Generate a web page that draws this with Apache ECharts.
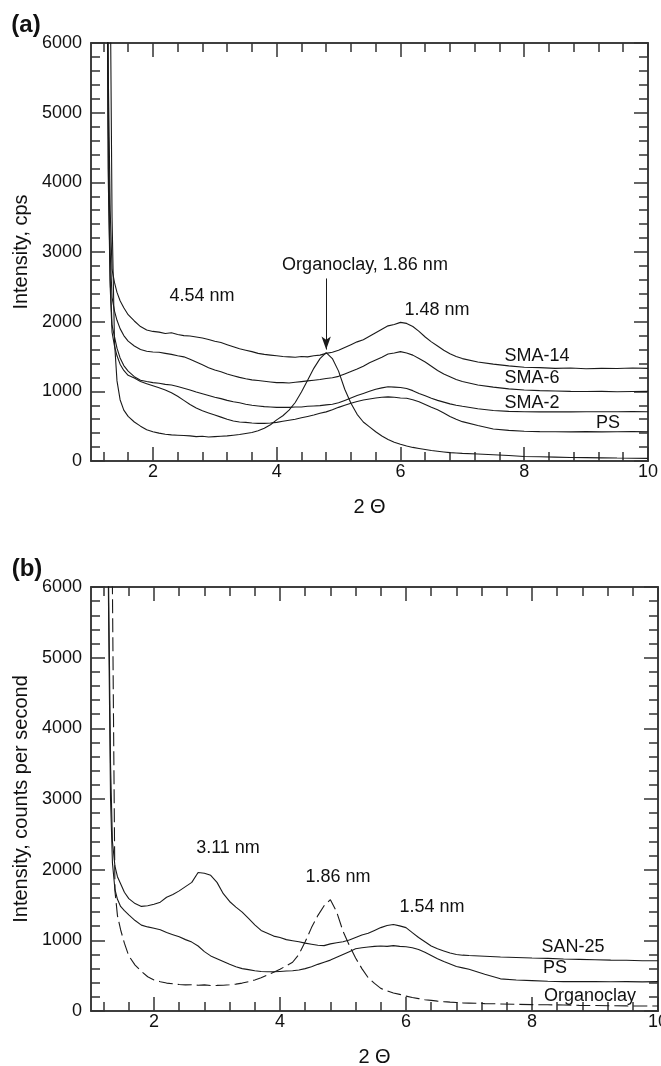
<!DOCTYPE html>
<html><head><meta charset="utf-8">
<script src="https://cdn.jsdelivr.net/npm/echarts@6/dist/echarts.min.js"></script>
<style>html,body{margin:0;padding:0;background:#fff}#c{width:661px;height:1066px}</style>
</head><body><div id="c"></div>
<script>
// 2Θ values shared by all curves
const twoTheta = [1.25,1.28,1.31,1.34,1.38,1.42,1.47,1.53,
 1.6,1.7,1.8,1.9,2.0,2.1,2.2,2.3,2.4,2.5,2.6,2.7,2.8,2.9,3.0,3.1,3.2,3.3,3.4,3.5,3.6,3.7,3.8,3.9,
 4.0,4.1,4.2,4.3,4.4,4.5,4.6,4.7,4.8,4.9,5.0,5.1,5.2,5.3,5.4,5.5,5.6,5.7,5.8,5.9,
 6.0,6.1,6.2,6.3,6.4,6.5,6.6,6.7,6.8,6.9,7.0,
 7.25,7.5,7.75,8.0,8.25,8.5,8.75,9.0,9.25,9.5,9.75,10.0];

// Panel (a)
const aSMA14 = [9000,5500,3600,2750,2560,2420,2300,2200,
 2100,2010,1930,1880,1860,1850,1830,1840,1815,1800,1795,1780,1765,1745,1720,1700,1670,1640,1610,1590,1570,1545,1530,1520,
 1510,1500,1495,1490,1500,1495,1510,1520,1545,1560,1590,1630,1670,1710,1740,1790,1840,1890,1940,1960,
 1990,1975,1930,1860,1780,1710,1650,1590,1540,1500,1470,
 1420,1390,1365,1345,1340,1330,1335,1325,1330,1328,1335,1330];
const aSMA6 = [9000,4800,3000,2350,2150,2020,1900,1800,
 1720,1650,1600,1575,1565,1560,1545,1530,1510,1495,1460,1420,1380,1340,1305,1280,1250,1225,1200,1180,1165,1155,1145,1135,
 1125,1125,1120,1130,1140,1150,1160,1170,1185,1195,1215,1250,1285,1320,1360,1410,1450,1490,1535,1550,
 1570,1550,1520,1470,1420,1360,1300,1250,1210,1170,1140,
 1090,1060,1035,1020,1010,1005,1000,998,1000,995,998,1000];
const aSMA2 = [9000,4200,2600,1950,1780,1620,1480,1370,
 1290,1210,1160,1140,1125,1115,1100,1090,1070,1045,1020,990,965,940,915,895,870,850,835,815,800,790,780,775,
 770,770,770,775,775,785,790,795,805,815,835,870,905,940,970,1000,1030,1050,1065,1060,
 1055,1040,1010,970,935,900,870,845,820,800,785,
 750,725,712,708,705,708,705,708,706,708,710,708];
const aPS = [9000,4000,2500,1850,1650,1510,1390,1300,
 1230,1190,1140,1110,1080,1050,1020,980,930,870,810,760,720,690,660,630,600,575,560,555,545,540,540,545,
 555,570,585,600,620,640,660,685,705,735,770,800,830,855,875,890,905,915,920,915,
 905,900,880,850,810,770,735,690,640,600,565,
 510,460,440,428,422,420,418,421,418,420,422,420];
const aOrganoclay = [9000,9000,7000,3500,1700,1150,880,730,
 640,560,500,450,420,400,385,375,370,365,360,350,355,345,350,355,360,370,380,395,410,435,470,520,
 590,650,730,840,990,1160,1330,1470,1555,1470,1290,1030,830,670,560,490,420,360,310,270,
 240,215,195,180,165,150,140,130,120,115,110,
 100,90,80,65,60,55,50,48,45,42,40,38];

// Panel (b)
const bSAN25 = [9000,6000,3500,2400,2050,1900,1800,1680,
 1590,1520,1480,1490,1510,1540,1610,1650,1700,1760,1820,1960,1950,1920,1820,1660,1550,1470,1400,1310,1220,1140,1100,1060,
 1040,1010,995,980,960,945,930,925,950,965,980,1005,1040,1075,1100,1140,1180,1210,1225,1205,
 1180,1110,1040,980,920,880,850,820,800,790,785,
 775,765,758,750,745,735,730,725,720,718,712,712];
const bPS = [9000,5500,3000,2100,1720,1580,1480,1420,
 1360,1280,1215,1190,1170,1150,1110,1080,1050,1010,975,920,840,780,740,700,660,625,600,585,570,560,555,555,
 560,565,570,580,600,625,660,690,720,760,800,840,880,895,905,915,920,915,925,915,
 910,895,870,830,785,740,700,665,630,610,590,
 520,455,438,430,422,415,418,415,413,415,412,415];
const bOrganoclay = [9000,9000,9000,6000,1700,1350,1150,960,
 780,650,560,485,440,415,395,385,375,370,372,365,370,360,362,365,372,380,395,415,440,470,510,550,
 590,640,690,800,980,1180,1350,1490,1575,1400,1130,930,750,600,470,390,320,285,255,235,
 210,190,175,160,150,140,132,125,120,115,112,
 105,100,95,90,88,85,80,78,75,72,70,70];

// Tick values
const xMajor = [2,4,6,8,10];
const xMinor = [1.2,1.6,2.4,2.8,3.2,3.6,4.4,4.8,5.2,5.6,6.4,6.8,7.2,7.6,8.4,8.8,9.2,9.6];
const yMajor = [0,1000,2000,3000,4000,5000,6000];
const yMinor = [200,400,600,800,1200,1400,1600,1800,2200,2400,2600,2800,3200,3400,3600,3800,4200,4400,4600,4800,5200,5400,5600,5800];

const FONT = "'Liberation Sans', Arial, sans-serif";
const AX = '#333';
const LINE = '#1a1a1a';

function xAx(g, pos, vals, len, extra) {
  return Object.assign({
    type:'value', gridIndex:g, position:pos, min:1, max:10,
    axisLine:{show:true, onZero:false, lineStyle:{color:AX, width:1.5}},
    axisTick:{show:true, inside:true, length:len, customValues:vals, lineStyle:{color:AX, width:1.5}},
    axisLabel:{show:false}, splitLine:{show:false}
  }, extra || {});
}
function yAx(g, pos, vals, len, extra) {
  return Object.assign({
    type:'value', gridIndex:g, position:pos, min:0, max:6000,
    axisLine:{show:true, onZero:false, lineStyle:{color:AX, width:1.5}},
    axisTick:{show:true, inside:true, length:len, customValues:vals, lineStyle:{color:AX, width:1.5}},
    axisLabel:{show:false}, splitLine:{show:false}
  }, extra || {});
}
const tickLabel = (vals, margin) => ({show:true, customValues:vals, fontSize:18, color:'#111', fontFamily:FONT,
  margin:margin, formatter:(v)=>String(v)});
const nameStyle = {fontSize:20, color:'#111', fontFamily:FONT};

const xAxes = [], yAxes = [];
[0,1].forEach(g => {
  xAxes.push(xAx(g,'bottom',xMajor,14,{axisLabel:tickLabel(xMajor,2), name:'2 Θ', nameLocation:'middle', nameGap:36, nameTextStyle:nameStyle}));
  xAxes.push(xAx(g,'bottom',xMinor,9));
  xAxes.push(xAx(g,'top',xMajor,14));
  xAxes.push(xAx(g,'top',xMinor,9));
  yAxes.push(yAx(g,'left',yMajor,14,{axisLabel:tickLabel(yMajor,9),
    name: g===0 ? 'Intensity, cps' : 'Intensity, counts per second',
    nameLocation:'middle', nameRotate:90, nameGap:57, nameTextStyle:nameStyle}));
  yAxes.push(yAx(g,'left',yMinor,9));
  yAxes.push(yAx(g,'right',yMajor,14));
  yAxes.push(yAx(g,'right',yMinor,9));
});

function line(name, vals, g, dashed, extra) {
  return Object.assign({
    type:'line', name:name, xAxisIndex:g*4, yAxisIndex:g*4,
    data: twoTheta.map((x,i)=>[x, vals[i]]),
    showSymbol:false, symbol:'none', smooth:false, clip:true,
    lineStyle:{color:LINE, width:1.1, type: dashed ? [14,5] : 'solid'},
    silent:true
  }, extra || {});
}

const txt = (x, y, t, size, bold) => ({
  type:'text', x:x, y:y, silent:true,
  style:{text:t, fill:'#111', font:(bold?'bold ':'') + size + 'px ' + FONT, align:'center', verticalAlign:'middle'}
});

const option = {
  animation:false,
  backgroundColor:'#fff',
  grid:[
    {left:91, top:43, width:557, height:418, outerBoundsMode:'none'},
    {left:91, top:587, width:567, height:424, outerBoundsMode:'none'}
  ],
  xAxis:xAxes, yAxis:yAxes,
  series:[
    line('SMA-14', aSMA14, 0),
    line('SMA-6', aSMA6, 0),
    line('SMA-2', aSMA2, 0),
    line('PS', aPS, 0),
    line('Organoclay', aOrganoclay, 0, false, {
      markLine:{silent:true, symbol:['none','arrow'], symbolSize:[7,13],
        lineStyle:{color:LINE, width:1, type:'solid'}, label:{show:false},
        data:[[{coord:[4.8, 2620]}, {coord:[4.8, 1600]}]]}
    }),
    line('SAN-25', bSAN25, 1),
    line('PS', bPS, 1),
    line('Organoclay', bOrganoclay, 1, true)
  ],
  graphic:[
    txt(26, 25, '(a)', 24, true),
    txt(202, 296, '4.54 nm', 18),
    txt(365, 265, 'Organoclay, 1.86 nm', 18),
    txt(437, 310, '1.48 nm', 18),
    txt(537, 356, 'SMA-14', 18),
    txt(532, 378, 'SMA-6', 18),
    txt(532, 403, 'SMA-2', 18),
    txt(608, 423, 'PS', 18),
    txt(27, 569, '(b)', 24, true),
    txt(228, 848, '3.11 nm', 18),
    txt(338, 877, '1.86 nm', 18),
    txt(432, 907, '1.54 nm', 18),
    txt(573, 947, 'SAN-25', 18),
    txt(555, 968, 'PS', 18),
    txt(590, 996, 'Organoclay', 18)
  ]
};
const chart = echarts.init(document.getElementById('c'), null, {renderer:'canvas'});
chart.setOption(option);
</script>
</body></html>
